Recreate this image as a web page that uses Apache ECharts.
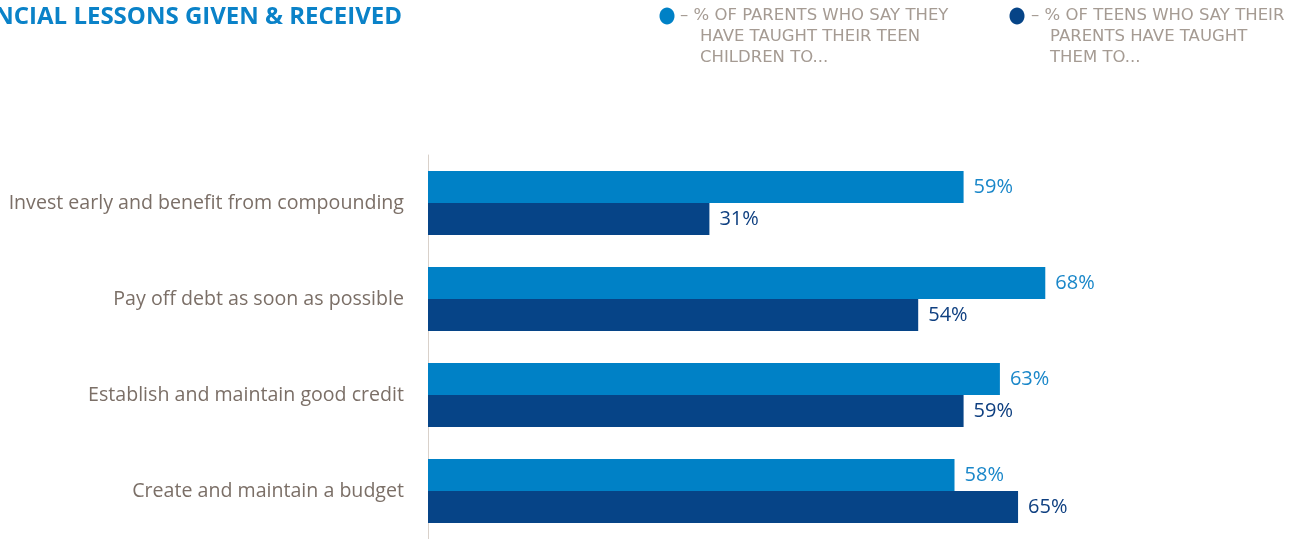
<!DOCTYPE html>
<html>
<head>
<meta charset="utf-8">
<script src="https://cdn.jsdelivr.net/npm/echarts@6/dist/echarts.min.js"></script>
<style>html,body{margin:0;padding:0;background:#fff;}#c{width:1313px;height:539px;}</style>
</head>
<body>
<div id="c"></div>
<script>
var categories = [
  'Invest early and benefit from compounding',
  'Pay off debt as soon as possible',
  'Establish and maintain good credit',
  'Create and maintain a budget'
];
var parentsValues = [59, 68, 63, 58];
var teensValues = [31, 54, 59, 65];
var seriesNames = [
  '% of parents who say they have taught their teen children to...',
  '% of teens who say their parents have taught them to...'
];
var titleText = 'FINANCIAL LESSONS GIVEN & RECEIVED';

var LIGHT = '#0081c6';
var DARK = '#064487';
var GRAYTXT = '#a59b93';
var LEGFONT = '16.5px "DejaVu Sans"';

var chart = echarts.init(document.getElementById('c'));
chart.setOption({
  animation: false,
  grid: { left: 428, right: 68, top: 155, bottom: 0, containLabel: false },
  xAxis: {
    type: 'value', min: 0, max: 90, show: false
  },
  yAxis: {
    type: 'category', data: categories, inverse: true,
    axisLine: { show: true, lineStyle: { color: '#d9d1ca', width: 1 } },
    axisTick: { show: false },
    axisLabel: { color: '#7b6f67', fontSize: 19.6, fontFamily: 'Open Sans', margin: 24 }
  },
  series: [
    {
      name: seriesNames[0], type: 'bar', data: parentsValues,
      barWidth: 32, barGap: '0%',
      itemStyle: { color: LIGHT },
      label: { show: true, position: 'right', distance: 10, formatter: '{c}%',
        color: '#1a87c9', fontSize: 20, fontFamily: 'Open Sans' }
    },
    {
      name: seriesNames[1], type: 'bar', data: teensValues,
      barWidth: 32, barGap: '0%',
      itemStyle: { color: DARK },
      label: { show: true, position: 'right', distance: 10, formatter: '{c}%',
        color: '#0e3f80', fontSize: 20, fontFamily: 'Open Sans' }
    }
  ],
  graphic: [
    { type: 'text', x: 402, y: 17,
      style: { text: titleText, fill: '#0a82c8', font: 'bold 24px "Open Sans"', align: 'right', verticalAlign: 'middle' } },
    { type: 'ellipse', shape: { cx: 667, cy: 16, rx: 7.5, ry: 8.5 }, style: { fill: LIGHT } },
    { type: 'text', x: 680, y: 16,
      style: { text: '– % OF PARENTS WHO SAY THEY', fill: GRAYTXT, font: LEGFONT, verticalAlign: 'middle' } },
    { type: 'text', x: 700, y: 37,
      style: { text: 'HAVE TAUGHT THEIR TEEN', fill: GRAYTXT, font: LEGFONT, verticalAlign: 'middle' } },
    { type: 'text', x: 700, y: 58,
      style: { text: 'CHILDREN TO...', fill: GRAYTXT, font: LEGFONT, verticalAlign: 'middle' } },
    { type: 'ellipse', shape: { cx: 1017, cy: 16, rx: 7.5, ry: 8.5 }, style: { fill: DARK } },
    { type: 'text', x: 1031, y: 16,
      style: { text: '– % OF TEENS WHO SAY THEIR', fill: GRAYTXT, font: LEGFONT, verticalAlign: 'middle' } },
    { type: 'text', x: 1050, y: 37,
      style: { text: 'PARENTS HAVE TAUGHT', fill: GRAYTXT, font: LEGFONT, verticalAlign: 'middle' } },
    { type: 'text', x: 1050, y: 58,
      style: { text: 'THEM TO...', fill: GRAYTXT, font: LEGFONT, verticalAlign: 'middle' } }
  ]
});
</script>
</body>
</html>
